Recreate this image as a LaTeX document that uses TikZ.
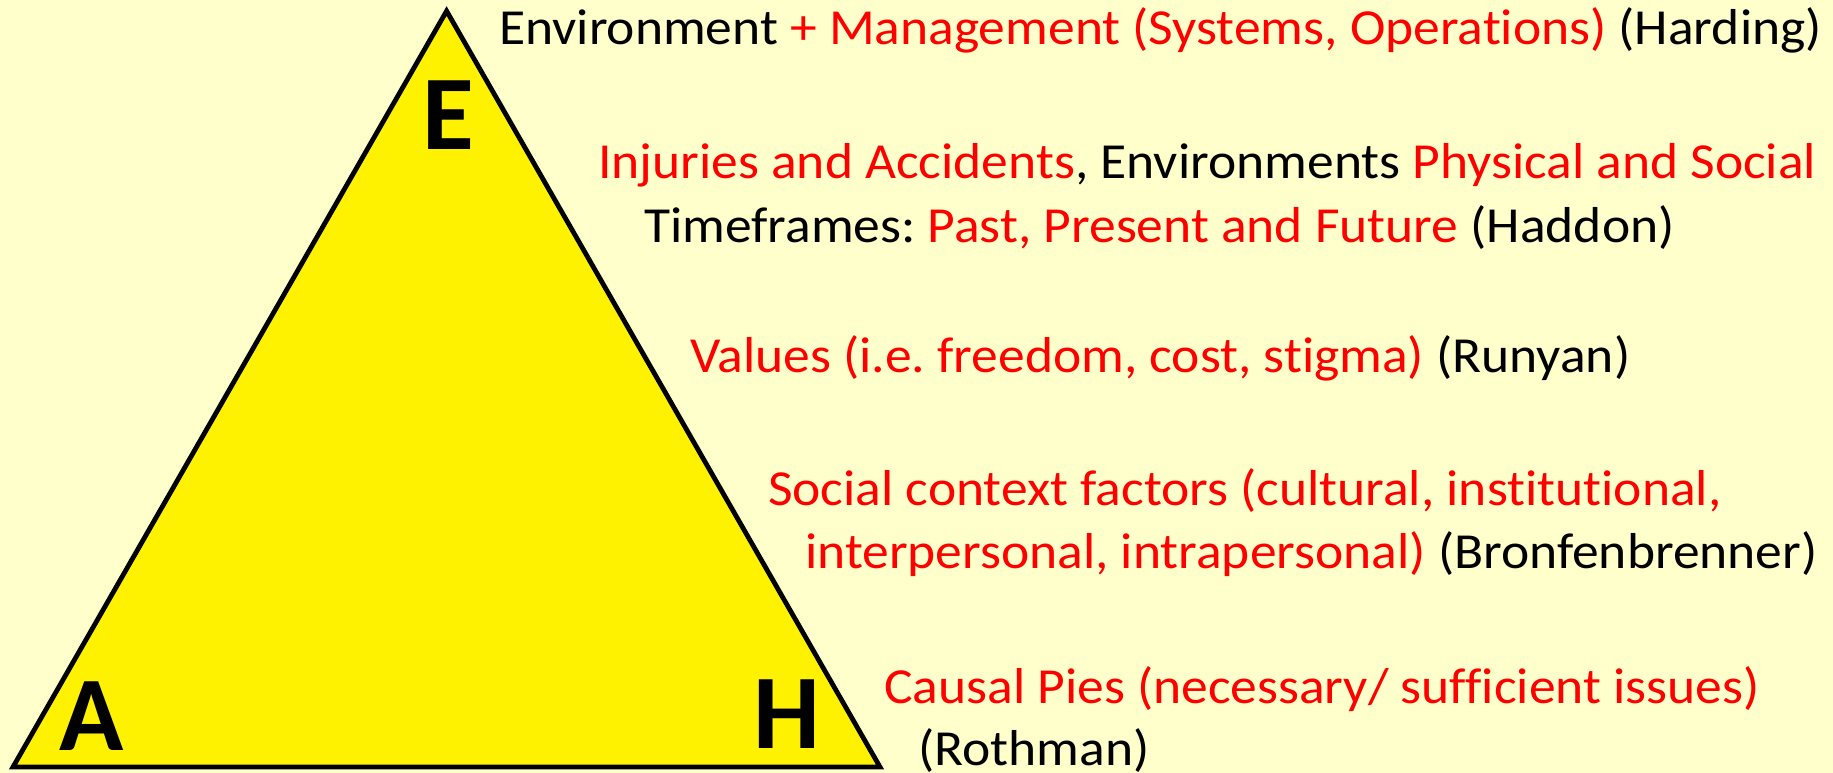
\documentclass[tikz,border=0pt]{standalone}
\usepackage{fontspec}
\setmainfont{Carlito}
\newfontfamily\widefont{Carlito}[FakeStretch=1.06,Ligatures=NoCommon]
\definecolor{paleyellow}{HTML}{FFFFCC}
\frenchspacing

\begin{document}
\begin{tikzpicture}[x=1pt,y=-1pt,
	txt/.style={anchor=base west,inner sep=0pt,font=\widefont\fontsize{50.5}{60}\selectfont},
	corner/.style={inner sep=0pt,font=\fontsize{106}{120}\selectfont\bfseries},
	]

	\fill[paleyellow] (0,0) rectangle (1833,773);
	\useasboundingbox (0,0) rectangle (1833,773);

	\coordinate (top) at (446.6,11);
	\coordinate (left) at (13,767);
	\coordinate (right) at (880,767);
	\draw[line width=4.8pt,fill=yellow] (top)--(left)--(right)--cycle;

	\node [corner] (e) at (448,115.5) {E};
	\node [corner] (a) at (91.5,716) {A};
	\node [corner] (h) at (786.5,714) {H};

	\node [txt] (harding) at (499,45) {Environment \textcolor{red}{+ Management (Systems, Operations)} (Harding)};
	\node [txt] (haddon1) at (598,178) {\textcolor{red}{Injuries and Accidents}, Environments \textcolor{red}{Physical and Social}};
	\node [txt] (haddon2) at (644,242) {Timeframes: \textcolor{red}{Past, Present and Future} (Haddon)};
	\node [txt] (runyan) at (690,372) {\textcolor{red}{Values (i.e. freedom, cost, stigma)} (Runyan)};
	\node [txt] (bronf1) at (768,505) {\textcolor{red}{Social context factors (cultural, institutional,}};
	\node [txt] (bronf2) at (805,568) {\textcolor{red}{interpersonal, intrapersonal)} (Bronfenbrenner)};
	\node [txt] (rothman1) at (884,703) {\textcolor{red}{Causal Pies (necessary/ sufficient issues)}};
	\node [txt] (rothman2) at (918,765) {(Rothman)};
\end{tikzpicture}
\end{document}
